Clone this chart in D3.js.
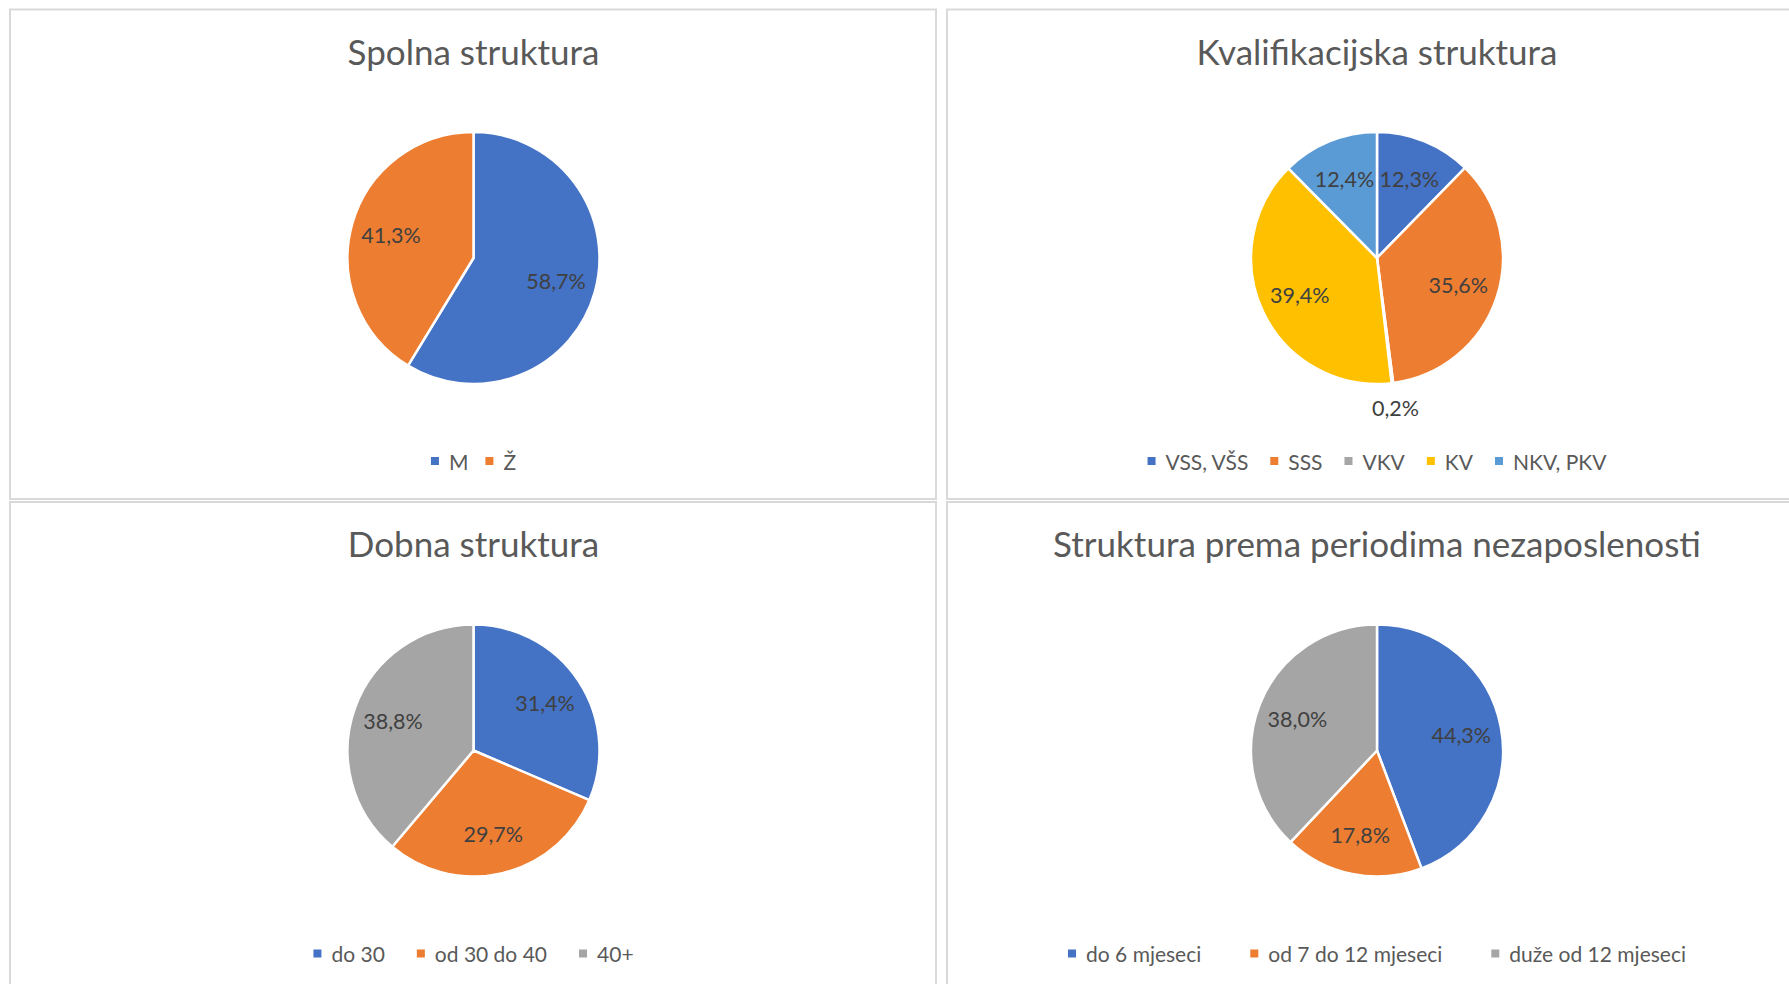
<!DOCTYPE html>
<html>
<head>
<meta charset="utf-8">
<script src="https://cdn.jsdelivr.net/npm/d3@7"></script>
<style>
  html, body { margin: 0; padding: 0; background: #ffffff; }
  svg { display: block; }
</style>
</head>
<body>
<svg id="chart" width="1789" height="984"></svg>
<script>
// ---------- DATA ----------
const titles = [
  "Spolna struktura",
  "Kvalifikacijska struktura",
  "Dobna struktura",
  "Struktura prema periodima nezaposlenosti"
];
const genderCategories = ["M", "Ž"];
const genderValues = [58.7, 41.3];

const qualificationCategories = ["VSS, VŠS", "SSS", "VKV", "KV", "NKV, PKV"];
const qualificationValues = [12.3, 35.6, 0.2, 39.4, 12.4];

const ageCategories = ["do 30", "od 30 do 40", "40+"];
const ageValues = [31.4, 29.7, 38.8];

const periodCategories = ["do 6 mjeseci", "od 7 do 12 mjeseci", "duže od 12 mjeseci"];
const periodValues = [44.3, 17.8, 38.0];

// ---------- STYLE / LAYOUT ----------
const paletteA = ["#4472C4", "#ED7D31", "#A5A5A5", "#FFC000", "#5B9BD5"];
const FONT = "Lato, 'Open Sans', sans-serif";

const panels = [
  { x: 10,  y: 9.5, w: 926, h: 489.5, cats: genderCategories, vals: genderValues, title: titles[0], gap: 17 },
  { x: 947, y: 9.5, w: 859, h: 489.5, cats: qualificationCategories, vals: qualificationValues, title: titles[1], gap: 22 },
  { x: 10,  y: 502, w: 926, h: 600, cats: ageCategories, vals: ageValues, title: titles[2], gap: 32 },
  { x: 947, y: 502, w: 859, h: 600, cats: periodCategories, vals: periodValues, title: titles[3], gap: 49 }
];

const locale = d3.formatLocale({ decimal: ",", thousands: ".", grouping: [3], currency: ["", ""] });
const fmt = locale.format(".1f");

const svg = d3.select("#chart");
svg.append("rect").attr("width", 1789).attr("height", 984).attr("fill", "#ffffff");

const R = 126;

panels.forEach((p, i) => {
  const g = svg.append("g");
  // panel border
  g.append("rect")
    .attr("x", p.x).attr("y", p.y).attr("width", p.w).attr("height", p.h)
    .attr("fill", "#ffffff").attr("stroke", "#d9d9d9").attr("stroke-width", 2);

  const cx = p.x + p.w / 2 + 0.5;
  const cy = p.y + 248.5;

  // title
  g.append("text")
    .attr("x", cx).attr("y", p.y + 55)
    .attr("text-anchor", "middle")
    .attr("font-family", FONT).attr("font-size", 35)
    .attr("fill", "#595959")
    .text(p.title);

  const color = d3.scaleOrdinal().domain(p.cats).range(paletteA);
  const data = p.cats.map((c, k) => ({ cat: c, val: p.vals[k] }));
  const pie = d3.pie().sort(null).value(d => d.val).startAngle(0).endAngle(2 * Math.PI);
  const arcs = pie(data);
  const arc = d3.arc().innerRadius(0).outerRadius(R);
  const labelArc = d3.arc().innerRadius(R * 0.68).outerRadius(R * 0.68);
  const outerLabelArc = d3.arc().innerRadius(R * 1.2).outerRadius(R * 1.2);

  const pg = g.append("g").attr("transform", `translate(${cx},${cy})`);
  pg.selectAll("path").data(arcs).join("path")
    .attr("d", arc)
    .attr("fill", d => color(d.data.cat))
    .attr("stroke", "#ffffff")
    .attr("stroke-width", 2.5)
    .attr("stroke-linejoin", "round");

  pg.selectAll("text.lbl").data(arcs).join("text")
    .attr("class", "lbl")
    .attr("transform", d => {
      const c = (d.data.val < 2 ? outerLabelArc : labelArc).centroid(d);
      return `translate(${c[0]},${c[1]})`;
    })
    .attr("text-anchor", "middle")
    .attr("dominant-baseline", "central")
    .attr("font-family", FONT).attr("font-size", 21.5)
    .attr("fill", "#404040")
    .text(d => fmt(d.data.val) + "%");

  // legend
  const lg = g.append("g");
  const ly = p.y + 451.5;
  const items = lg.selectAll("g").data(p.cats).join("g");
  items.append("rect")
    .attr("width", 8).attr("height", 8).attr("y", -4)
    .attr("fill", d => color(d));
  items.append("text")
    .attr("x", 18).attr("y", 0)
    .attr("dominant-baseline", "central")
    .attr("font-family", FONT).attr("font-size", 21)
    .attr("fill", "#595959")
    .text(d => d);
  const widths = [];
  items.each(function() {
    const w = 18 + d3.select(this).select("text").node().getComputedTextLength();
    widths.push(w);
  });
  const total = d3.sum(widths) + p.gap * (widths.length - 1);
  let x0 = cx - total / 2;
  items.each(function(d, k) {
    d3.select(this).attr("transform", `translate(${x0},${ly})`);
    x0 += widths[k] + p.gap;
  });
});
</script>
</body>
</html>
